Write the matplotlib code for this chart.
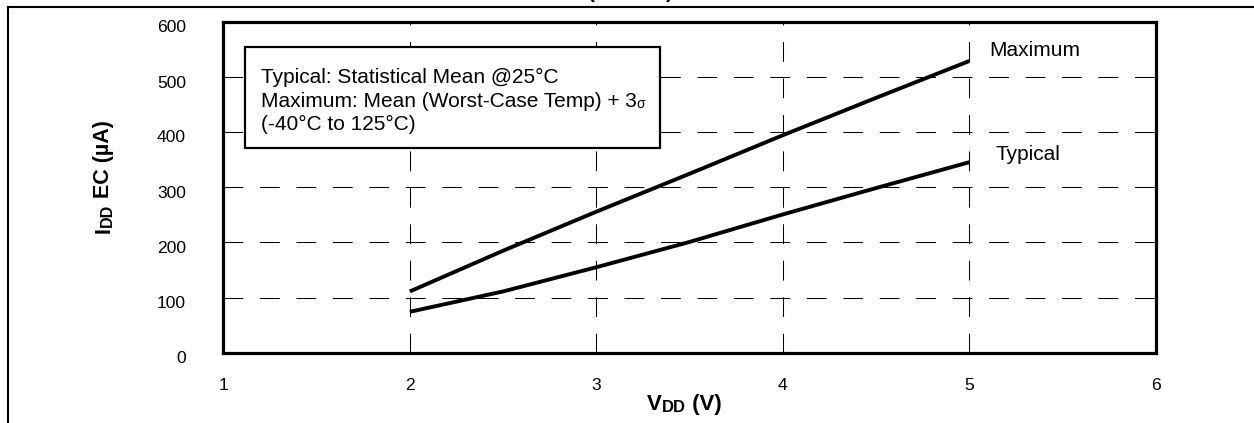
import matplotlib
matplotlib.use("Agg")
import matplotlib.pyplot as plt
from matplotlib.lines import Line2D
from matplotlib.patches import Rectangle
from matplotlib.text import Annotation
from matplotlib.transforms import ScaledTranslation

plt.rcParams["font.family"] = ["Liberation Sans", "DejaVu Sans"]

# Data
vdd     = [2.0, 2.5, 3.0, 3.5, 4.0, 4.5, 5.0]
idd_max = [111, 185, 256, 325, 395, 463, 530]
idd_typ = [74, 111, 155, 201, 251, 299, 346]

x_ticks = [1, 2, 3, 4, 5, 6]
y_ticks = [0, 100, 200, 300, 400, 500, 600]

note_lines = ["Typical: Statistical Mean @25°C",
              "Maximum: Mean (Worst-Case Temp) + 3",
              "(-40°C to 125°C)"]

W, H = 1254, 423
fig = plt.figure(figsize=(W / 100, H / 100), dpi=100)

def fx(px):  return px / W
def fy(py):  return 1 - py / H

def chain(text, prev, xy, **kw):
    """ Put a text piece right after another one (figure level). """
    a = Annotation(text, xy=xy, xycoords=prev, annotation_clip=False, **kw)
    fig.add_artist(a)
    return a

ax = fig.add_axes([fx(223.3), fy(352.5), fx(1155.8) - fx(223.3), fy(22.5) - fy(352.5)])

ax.plot(vdd, idd_max, color="black", linewidth=2.8, solid_capstyle="butt", zorder=3)
ax.plot(vdd, idd_typ, color="black", linewidth=2.8, solid_capstyle="butt", zorder=3)

ax.set_xlim(1, 6)
ax.set_ylim(0, 600)
ax.set_xticks(x_ticks)
ax.set_yticks(y_ticks)
ax.set_xticklabels([str(v) for v in x_ticks])
ax.set_yticklabels([str(v) for v in y_ticks])
ax.tick_params(axis="both", length=0, labelsize=12.6, colors="black")
ax.tick_params(axis="y", pad=27)
ax.tick_params(axis="x", pad=18)

ax.grid(True, color="black", linewidth=0.75, linestyle=(0, (19, 16)))
ax.set_axisbelow(True)
for sp in ax.spines.values():
    sp.set_linewidth(2.3)
    sp.set_zorder(4)

# y tick labels sit a little below their grid lines
for lab in ax.get_yticklabels():
    lab.set_transform(lab.get_transform() + ScaledTranslation(0, -0.04, fig.dpi_scale_trans))

# curve labels
ax.text(5.107, 540, "Maximum", fontsize=15, ha="left", va="baseline")
ax.text(5.143, 350, "Typical", fontsize=15, ha="left", va="baseline")

# note box
fig.add_artist(Rectangle((fx(245), fy(148)), fx(660) - fx(245), fy(46.7) - fy(148),
                         transform=fig.transFigure, facecolor="white",
                         edgecolor="black", linewidth=1.6, zorder=5))
baselines = [83.3, 106.7, 129.5]
note_txt = []
for line, b in zip(note_lines, baselines):
    note_txt.append(fig.text(fx(260.7), fy(b), line, fontsize=15, va="baseline", zorder=6))
chain("σ", note_txt[1], (1, 0), fontsize=10, ha="left", va="bottom", zorder=6)

# x axis label  VDD (V)
tv = fig.text(fx(646.7), fy(410), "V", fontsize=16, fontweight="bold", va="baseline")
tdd = chain("DD", tv, (1, 0), fontsize=12, fontweight="bold", ha="left", va="bottom")
chain(" (V)", tdd, (1, 0), fontsize=16, fontweight="bold", ha="left", va="bottom")

# y axis label  IDD EC (µA)
ti = fig.text(fx(114.5), fy(233), "I", fontsize=15.5, fontweight="bold",
              rotation=90, ha="right", va="bottom")
tid = chain("DD", ti, (1, 1), fontsize=11.5, fontweight="bold",
            rotation=90, ha="right", va="bottom")
chain(" EC (µA)", tid, (1, 1), fontsize=15.5, fontweight="bold",
      rotation=90, ha="right", va="bottom")

# clipped title parentheses at the very top
fig.text(fx(588), 1 + 1.5 / H, "(", fontsize=15, fontweight="bold", ha="left", va="baseline")
fig.text(fx(673), 1 + 1.5 / H, ")", fontsize=15, fontweight="bold", ha="right", va="baseline")

# outer frame (left and top edges)
fig.add_artist(Line2D([fx(8), fx(8)], [0, fy(7)], transform=fig.transFigure,
                      color="black", linewidth=1.5))
fig.add_artist(Line2D([fx(8), 1], [fy(7), fy(7)], transform=fig.transFigure,
                      color="black", linewidth=1.5))

fig.savefig("out.png", dpi=100)
